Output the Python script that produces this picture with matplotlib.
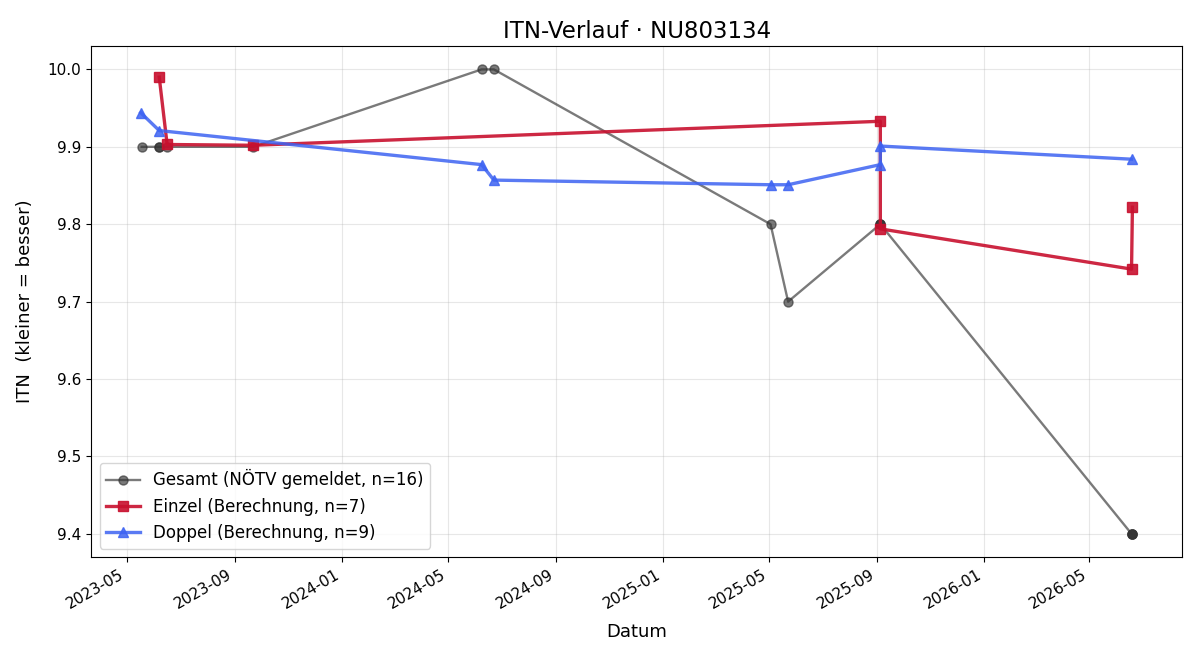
import pandas as pd
import matplotlib
matplotlib.use("Agg")
import matplotlib.pyplot as plt
import matplotlib.dates as mdates

# Gesamt (NÖTV gemeldet)
gesamt_dates = ["2023-05-18", "2023-06-07", "2023-06-07", "2023-06-16", "2023-09-22",
                "2024-06-08", "2024-06-22", "2025-05-03", "2025-05-23",
                "2025-09-05", "2025-09-05", "2025-09-05",
                "2026-06-18", "2026-06-18", "2026-06-18", "2026-06-18"]
gesamt_itn = [9.9, 9.9, 9.9, 9.9, 9.9, 10.0, 10.0, 9.8, 9.7,
              9.8, 9.8, 9.8, 9.4, 9.4, 9.4, 9.4]

# Einzel (Berechnung)
einzel_dates = ["2023-06-07", "2023-06-16", "2023-09-22", "2025-09-05",
                "2025-09-05", "2026-06-18", "2026-06-19"]
einzel_itn = [9.990, 9.903, 9.902, 9.933, 9.794, 9.742, 9.822]

# Doppel (Berechnung)
doppel_dates = ["2023-05-17", "2023-06-07", "2024-06-08", "2024-06-22", "2025-05-03",
                "2025-05-23", "2025-09-05", "2025-09-05", "2026-06-18"]
doppel_itn = [9.944, 9.921, 9.877, 9.857, 9.851, 9.851, 9.877, 9.901, 9.884]


def main():
    fig, ax = plt.subplots(figsize=(12, 6.6), dpi=100)

    ax.plot(pd.to_datetime(gesamt_dates), gesamt_itn, marker="o", markersize=6.5,
            color="#333333", alpha=0.65, linewidth=1.7,
            label=f"Gesamt (NÖTV gemeldet, n={len(gesamt_itn)})")
    ax.plot(pd.to_datetime(einzel_dates), einzel_itn, marker="s", markersize=7.5,
            color="#c8102e", alpha=0.9, linewidth=2.4,
            label=f"Einzel (Berechnung, n={len(einzel_itn)})")
    ax.plot(pd.to_datetime(doppel_dates), doppel_itn, marker="^", markersize=7.5,
            color="#3d63f2", alpha=0.85, linewidth=2.4,
            label=f"Doppel (Berechnung, n={len(doppel_itn)})")

    ax.xaxis.set_major_locator(mdates.MonthLocator(bymonth=[1, 5, 9]))
    ax.xaxis.set_major_formatter(mdates.DateFormatter("%Y-%m"))
    ax.tick_params(labelsize=11)
    fig.autofmt_xdate()

    ax.set_title("ITN-Verlauf · NU803134", fontsize=16.5)
    ax.set_xlabel("Datum", fontsize=13, labelpad=8)
    ax.set_ylabel("ITN  (kleiner = besser)", fontsize=13, labelpad=10)
    ax.grid(True, alpha=0.3)
    ax.legend(loc="lower left", fontsize=12)

    fig.subplots_adjust(left=0.076, right=0.985, top=0.93, bottom=0.156)
    fig.savefig("out.png", dpi=100)


if __name__ == "__main__":
    main()
